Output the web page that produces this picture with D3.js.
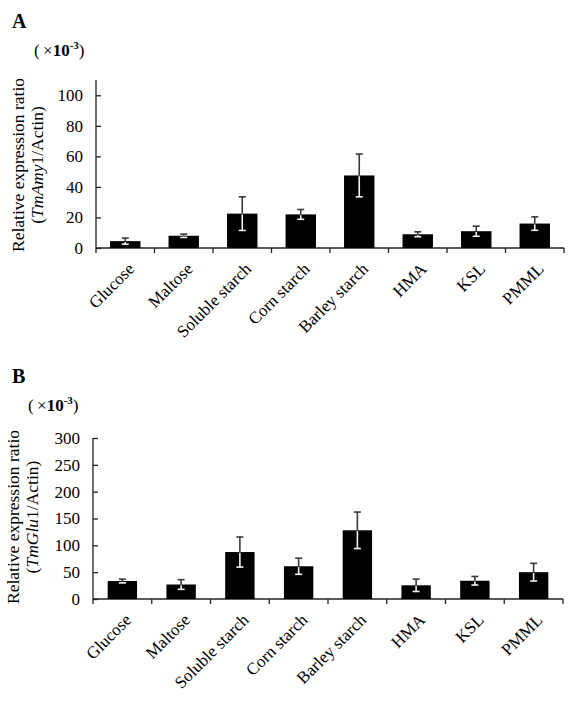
<html lang="en">
  <head>
    <script src="https://d3js.org/d3.v7.min.js"></script>
    <style>
    body { margin: 0; background: white; }
    svg text { font-family: "Liberation Serif", serif; font-size: 17px; }
    </style>
  </head>
  <body>
    <svg id="chart"></svg>
    <script>
      // values (x 10^-3)
      var categories = ["Glucose", "Maltose", "Soluble starch", "Corn starch", "Barley starch", "HMA", "KSL", "PMML"];
      var amyMean = [4.5, 8, 22.5, 22, 47.5, 9, 11, 16];
      var amyErr = [2, 1.1, 11, 3.2, 14, 1.6, 3.3, 4.4];
      var gluMean = [33.5, 27, 87.5, 61, 128, 25.5, 34, 50];
      var gluErr = [3.5, 9, 28, 15, 34, 11.5, 8, 16.5];
      var amyTicks = [0, 20, 40, 60, 80, 100];
      var gluTicks = [0, 50, 100, 150, 200, 250, 300];

      var svg = d3.select("#chart").attr("width", 575).attr("height", 706);

      function drawPanel(p) {
        var g = svg.append("g");

        var x = d3.scaleBand()
          .domain(categories)
          .range([p.left, p.right])
          .paddingInner(p.pad)
          .paddingOuter(p.pad / 2);
        var y = d3.scaleLinear().domain([0, p.ymax]).range([p.bottom, p.top]);

        // category labels, slanted 45 degrees (CSS transform)
        categories.forEach(function(d) {
          var lx = x(d) + x.bandwidth() / 2 + 10, ly = p.bottom + 22;
          svg.append("text")
            .attr("x", lx).attr("y", ly)
            .attr("text-anchor", "end")
            .style("transform-origin", lx + "px " + ly + "px")
            .style("transform", "rotate(-45deg)")
            .text(d);
        });

        // panel letter and unit
        g.append("text").attr("x", 12).attr("y", p.letterY)
          .style("font-size", "20px").style("font-weight", "bold").text(p.letter);
        var u = g.append("text").attr("x", p.unitX).attr("y", p.letterY + 28);
        u.append("tspan").text("(\u2009\u00d7");
        u.append("tspan").style("font-weight", "bold").text("10");
        u.append("tspan").attr("dy", -7).style("font-size", "11px").style("font-weight", "bold").text("-3");
        u.append("tspan").attr("dy", 7).text(")");

        // y axis (ticks point inward)
        var ya = g.append("g")
          .attr("transform", "translate(" + p.left + ",0)")
          .call(d3.axisLeft(y).tickValues(p.ticks).tickSizeInner(-5).tickSizeOuter(0).tickPadding(13));
        ya.select(".domain").remove();
        ya.selectAll("line").attr("stroke", "#222").attr("stroke-width", 1.3);
        ya.selectAll("text").attr("font-family", null).attr("font-size", null).style("font-size", "17px");
        ya.append("line").attr("x1", 0).attr("x2", 0).attr("y1", p.top).attr("y2", p.bottom)
          .attr("stroke", "#222").attr("stroke-width", 1.3);

        // x axis with ticks at band edges
        var xa = g.append("g").attr("stroke", "#222").attr("stroke-width", 1.3);
        xa.append("line").attr("x1", p.left).attr("x2", p.right).attr("y1", p.bottom).attr("y2", p.bottom);
        xa.selectAll(".edge").data(d3.range(categories.length + 1)).enter().append("line")
          .attr("x1", function(i) { return p.left + i * x.step(); })
          .attr("x2", function(i) { return p.left + i * x.step(); })
          .attr("y1", p.bottom).attr("y2", p.bottom + 5);

        // y label, two lines
        var yl = g.append("g").attr("transform", "translate(" + p.labelX + "," + p.labelY + ") rotate(-90)");
        yl.append("text").attr("text-anchor", "middle").style("font-size", "17.5px").text("Relative expression ratio");
        var l2 = yl.append("text").attr("text-anchor", "middle").attr("y", 18.5).style("font-size", "17.5px");
        l2.append("tspan").text("(");
        l2.append("tspan").style("font-style", "italic").text(p.gene);
        l2.append("tspan").text("1/Actin)");

        // bars
        var rows = categories.map(function(c, i) { return {c: c, m: p.mean[i], e: p.err[i]}; });
        g.selectAll(".bar").data(rows).enter().append("rect")
          .attr("x", function(d) { return x(d.c); })
          .attr("y", function(d) { return y(d.m); })
          .attr("width", x.bandwidth())
          .attr("height", function(d) { return y(0) - y(d.m); })
          .attr("fill", "black");

        // error bars: dark above the bar top, light inside the bar
        var cx = function(d) { return x(d.c) + x.bandwidth() / 2; };
        var eb = g.selectAll(".err").data(rows).enter().append("g").attr("stroke-width", 1.6);
        eb.append("line").attr("stroke", "#3a3a3a")
          .attr("x1", cx).attr("x2", cx)
          .attr("y1", function(d) { return y(d.m + d.e); })
          .attr("y2", function(d) { return y(d.m); });
        eb.append("line").attr("stroke", "#3a3a3a")
          .attr("x1", function(d) { return cx(d) - 3.5; }).attr("x2", function(d) { return cx(d) + 3.5; })
          .attr("y1", function(d) { return y(d.m + d.e); })
          .attr("y2", function(d) { return y(d.m + d.e); });
        eb.append("line").attr("stroke", "#f2f2f2")
          .attr("x1", cx).attr("x2", cx)
          .attr("y1", function(d) { return y(d.m) + 0.8; })
          .attr("y2", function(d) { return y(d.m - d.e); });
        eb.append("line").attr("stroke", "#f2f2f2")
          .attr("x1", function(d) { return cx(d) - 3.5; }).attr("x2", function(d) { return cx(d) + 3.5; })
          .attr("y1", function(d) { return y(d.m - d.e); })
          .attr("y2", function(d) { return y(d.m - d.e); });
      }

      drawPanel({
        letter: "A", letterY: 28, unitX: 34, gene: "TmAmy",
        mean: amyMean, err: amyErr, ticks: amyTicks, ymax: 110,
        left: 96, right: 564, top: 80, bottom: 248, pad: 0.48,
        labelX: 24, labelY: 165
      });

      drawPanel({
        letter: "B", letterY: 383, unitX: 28, gene: "TmGlu",
        mean: gluMean, err: gluErr, ticks: gluTicks, ymax: 300,
        left: 93, right: 563, top: 438, bottom: 599, pad: 0.5,
        labelX: 19, labelY: 517
      });
    </script>
  </body>
</html>
